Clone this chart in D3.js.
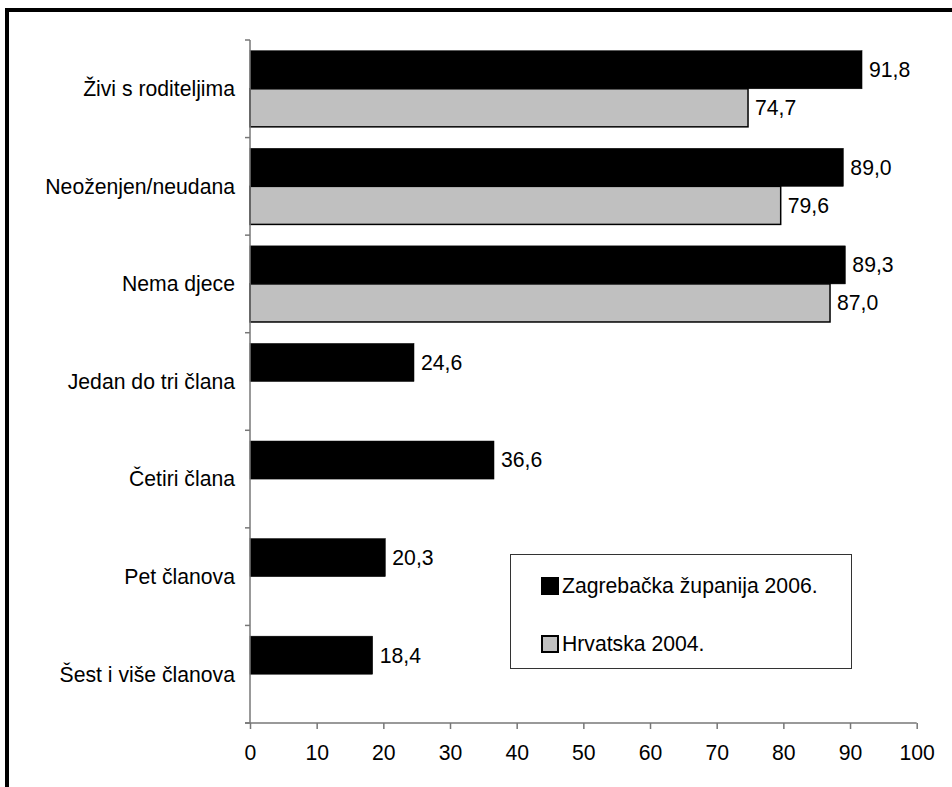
<!DOCTYPE html>
<html>
<head>
<meta charset="utf-8">
<script src="https://cdn.jsdelivr.net/npm/d3@7"></script>
<style>
html,body{margin:0;padding:0;background:#fff;}
svg text{font-family:"Liberation Sans",Arial,sans-serif;fill:#000;}
</style>
</head>
<body>
<svg id="chart" width="952" height="787"></svg>
<script>
const categories = ["Živi s roditeljima","Neoženjen/neudana","Nema djece","Jedan do tri člana","Četiri člana","Pet članova","Šest i više članova"];
const seriesNames = ["Zagrebačka županija 2006.","Hrvatska 2004."];
const zagreb = [91.8, 89.0, 89.3, 24.6, 36.6, 20.3, 18.4];
const hrvatska = [74.7, 79.6, 87.0, null, null, null, null];
const xTicks = [0,10,20,30,40,50,60,70,80,90,100];
const colors = ["#000000","#c0c0c0"];

const svg = d3.select("#chart");
const fs = 21.2;

// outer border (left & top)
svg.append("path").attr("d","M7,787V10H952").attr("fill","none").attr("stroke","#000").attr("stroke-width",4);

const x = d3.scaleLinear().domain([0,100]).range([250,916.7]);
const y = d3.scaleBand().domain(categories).range([40,723]).paddingInner(0.22).paddingOuter(0.11);
const sub = d3.scaleBand().domain([0,1]).range([0,y.bandwidth()]);

const series = [zagreb, hrvatska];
series.forEach((vals, si) => {
  const g = svg.append("g");
  categories.forEach((c, i) => {
    const v = vals[i];
    if (v == null) return;
    const y0 = y(c) + sub(si);
    g.append("rect")
      .attr("x", x(0)).attr("y", y0)
      .attr("width", x(v) - x(0)).attr("height", sub.bandwidth())
      .attr("fill", colors[si]).attr("stroke", "#000").attr("stroke-width", si === 1 ? 1.5 : 0.5);
    g.append("text")
      .attr("x", x(v) + 7).attr("y", y0 + sub.bandwidth()/2)
      .attr("dy","0.35em").attr("font-size", fs)
      .text(d3.format(".1f")(v).replace(".", ","));
  });
});

// x axis
const xAxis = svg.append("g").attr("transform","translate(0,723)")
  .call(d3.axisBottom(x).tickValues(xTicks).tickSize(6).tickPadding(16).tickFormat(d3.format("d")));
xAxis.select(".domain").attr("stroke","#777").attr("stroke-width",1.5).attr("d","M245,0H916.7");
xAxis.selectAll(".tick line").attr("stroke","#777").attr("stroke-width",1.5);
xAxis.selectAll(".tick text").attr("font-size", fs).attr("font-family","Liberation Sans, Arial, sans-serif").attr("fill","#000");

// y axis line and boundary ticks
const yAxisG = svg.append("g");
yAxisG.append("line").attr("x1",250).attr("x2",250).attr("y1",40).attr("y2",723).attr("stroke","#777").attr("stroke-width",1.5);
const bounds = categories.map(c => y(c) - y.step()*y.paddingInner()/2);
bounds.push(723);
bounds[0] = 40;
yAxisG.selectAll("line.t").data(bounds).enter().append("line")
  .attr("x1",245).attr("x2",250).attr("y1",d=>d).attr("y2",d=>d)
  .attr("stroke","#777").attr("stroke-width",1.5);

// category labels
svg.append("g").selectAll("text").data(categories).enter().append("text")
  .attr("x",235).attr("y",d=>y(d)+y.bandwidth()/2).attr("dy","0.35em")
  .attr("text-anchor","end").attr("font-size",fs).text(d=>d);

// legend
const lg = svg.append("g");
lg.append("rect").attr("x",510.5).attr("y",554.5).attr("width",341).attr("height",114)
  .attr("fill","#fff").attr("stroke","#333").attr("stroke-width",1);
seriesNames.forEach((n, i) => {
  const cy = 586 + i*58;
  lg.append("rect").attr("x",542).attr("y",cy-8).attr("width",16).attr("height",16)
    .attr("fill",colors[i]).attr("stroke","#000").attr("stroke-width",2);
  lg.append("text").attr("x",562).attr("y",cy).attr("dy","0.35em").attr("font-size",fs).text(n);
});
</script>
</body>
</html>
